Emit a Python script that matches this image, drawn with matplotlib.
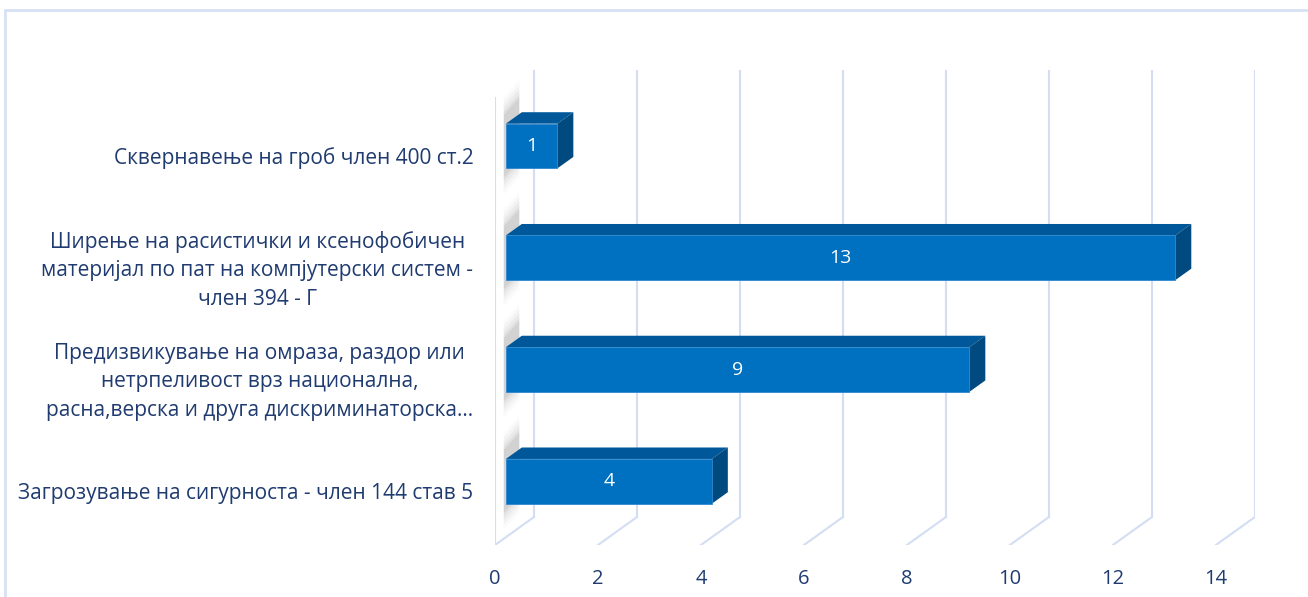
import matplotlib.pyplot as plt
from matplotlib.patches import Polygon, FancyBboxPatch

categories = [
    "Загрозување на сигурноста - член 144 став 5",
    "Предизвикување на омраза, раздор или\nнетрпеливост врз национална,\nрасна,верска и друга дискриминаторска…",
    "Ширење на расистички и ксенофобичен\nматеријал по пат на компјутерски систем -\nчлен 394 - Г",
    "Сквернавење на гроб член 400 ст.2",
]
values = [4, 9, 13, 1]
xticks = [0, 2, 4, 6, 8, 10, 12, 14]

plt.rcParams['font.family'] = ['Open Sans', 'DejaVu Sans']

front_c = '#0070c0'
top_c = '#00589a'
side_c = '#004a7f'
grid_c = '#d3def2'
text_c = '#1f3b70'

fig = plt.figure(figsize=(13.08, 5.97), dpi=100)
# outer border
fig.patches.append(FancyBboxPatch((0.004, -0.05), 1.2, 1.034, boxstyle="square,pad=0",
                                  transform=fig.transFigure, fill=False,
                                  edgecolor='#d6e1f4', linewidth=2))

ax = fig.add_axes([0.3784, 0.0871, 0.5811, 0.7956])
ax.set_xlim(0, 14.76)
ax.set_ylim(-0.5, 3.75)
ax.axis('off')

DX, DY = 0.757, 0.25   # full depth offset
f0, f1 = 0.28, 0.69    # bar depth fractions
h = 0.40

# walls / grid
ax.plot([0, 0], [-0.5, 3.5], color=grid_c, lw=1.5, zorder=1)
for k in xticks:
    ax.plot([k + DX, k + DX], [-0.5 + DY, 3.75], color=grid_c, lw=1.5, zorder=1)
    ax.plot([k, k + DX], [-0.5, -0.5 + DY], color=grid_c, lw=1.5, zorder=1)
    ax.text(k, -0.5 - 0.3, str(k), ha='center', va='center', fontsize=14.5, color=text_c)

x0, y0 = f0 * DX, f0 * DY
x1, y1 = f1 * DX, f1 * DY
for i, (lab, v) in enumerate(zip(categories, values)):
    # soft shadow behind the bar end
    for s, a in [(0.18, 0.03), (0.14, 0.04), (0.10, 0.06), (0.06, 0.08), (0.03, 0.1)]:
        ax.add_patch(Polygon([(x0 - 0.04, i - h / 2 + y0 - 0.05 - s), (x0 - 0.04, i + h / 2 + y0 + 0.05 + s),
                              (x1 - 0.05, i + h / 2 + y1 + 0.1 + s), (x1 - 0.05, i - h / 2 + y1 - s)],
                             closed=True, facecolor='#606060', edgecolor='none', alpha=a, zorder=2))
    ax.barh(i + y0, v, height=h, left=x0, color=front_c, edgecolor='#2e86cf', linewidth=0.6, zorder=4)
    ax.add_patch(Polygon([(x0, i + h / 2 + y0), (v + x0, i + h / 2 + y0),
                          (v + x1, i + h / 2 + y1), (x1, i + h / 2 + y1)],
                         closed=True, facecolor=top_c, edgecolor='none', zorder=3))
    ax.add_patch(Polygon([(v + x0, i - h / 2 + y0), (v + x0, i + h / 2 + y0),
                          (v + x1, i + h / 2 + y1), (v + x1, i - h / 2 + y1)],
                         closed=True, facecolor=side_c, edgecolor='none', zorder=3))
    ax.text(x0 + v / 2, i + y0, str(v), ha='center', va='center', fontsize=14, color='white', zorder=5)
    ax.text(-0.42, i - 0.04, lab, ha='right', va='center', multialignment='center',
            fontsize=15, color=text_c, linespacing=1.47)

fig.savefig('out.png', dpi=100)
